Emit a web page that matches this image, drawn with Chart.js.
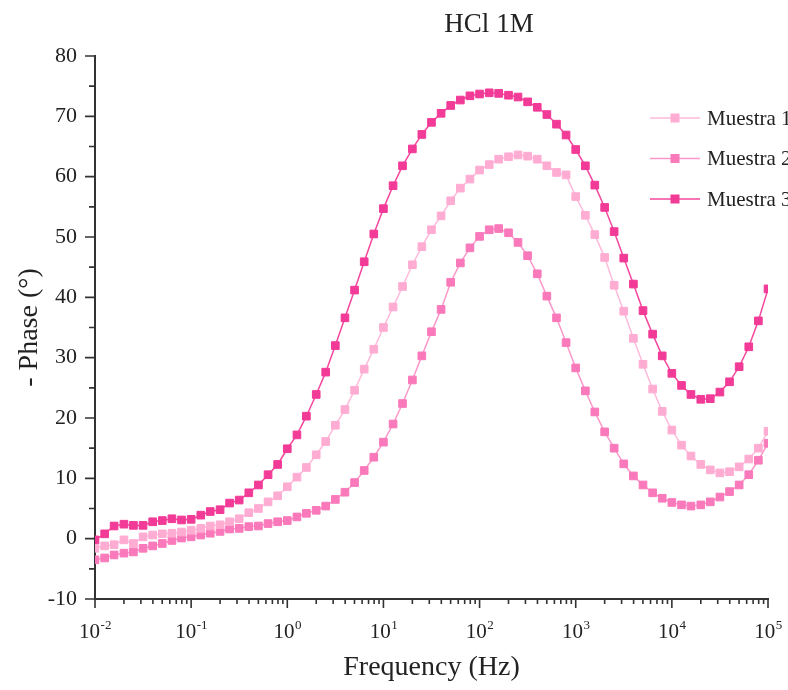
<!DOCTYPE html>
<html>
<head>
<meta charset="utf-8">
<title>HCl 1M - Phase vs Frequency</title>
<script src="https://cdn.jsdelivr.net/npm/chart.js@4.4.1/dist/chart.umd.min.js"></script>
<style>
  html, body { margin: 0; padding: 0; background: #ffffff; overflow: hidden; }
  #wrap { width: 788px; height: 690px; }
</style>
</head>
<body>
<div id="wrap"><canvas id="bode" width="788" height="690"></canvas></div>
<script>
// Frequencies (Hz), 10 points per decade
const freqHz = [
  0.01, 0.0126, 0.0158, 0.02, 0.0251, 0.0316, 0.0398, 0.0501, 0.0631, 0.0794,
  0.1, 0.126, 0.158, 0.2, 0.251, 0.316, 0.398, 0.501, 0.631, 0.794,
  1, 1.26, 1.58, 2, 2.51, 3.16, 3.98, 5.01, 6.31, 7.94,
  10, 12.6, 15.8, 20, 25.1, 31.6, 39.8, 50.1, 63.1, 79.4,
  100, 126, 158, 200, 251, 316, 398, 501, 631, 794,
  1000, 1260, 1580, 2000, 2510, 3160, 3980, 5010, 6310, 7940,
  10000, 12600, 15800, 20000, 25100, 31600, 39800, 50100, 63100, 79400,
  100000
];

// -Phase (degrees) for each sample
const muestra1 = [
  -1.6, -1.2, -1.0, -0.2, -0.8, 0.3, 0.6, 0.8, 0.9, 1.1,
  1.4, 1.7, 2.1, 2.3, 2.8, 3.3, 4.3, 5.0, 6.1, 7.1,
  8.6, 10.2, 11.8, 13.9, 16.1, 18.8, 21.4, 24.6, 28.1, 31.4,
  35.0, 38.4, 41.8, 45.4, 48.4, 51.2, 53.5, 56.0, 58.1, 59.6,
  61.1, 62.0, 62.9, 63.3, 63.6, 63.4, 62.9, 61.8, 60.7, 60.3,
  56.7, 53.6, 50.4, 46.6, 42.0, 37.7, 33.2, 28.9, 24.8, 21.1,
  18.0, 15.5, 13.7, 12.3, 11.4, 10.9, 11.1, 11.9, 13.2, 15.0,
  17.8
];
const muestra2 = [
  -3.5, -3.2, -2.7, -2.4, -2.2, -1.6, -1.2, -0.8, -0.3, 0.1,
  0.3, 0.6, 0.9, 1.2, 1.6, 1.7, 2.0, 2.1, 2.5, 2.8,
  3.0, 3.6, 4.2, 4.7, 5.4, 6.5, 7.7, 9.3, 11.3, 13.5,
  16.0, 19.0, 22.4, 26.3, 30.3, 34.3, 38.0, 42.5, 45.7, 48.2,
  50.1, 51.2, 51.4, 50.7, 49.1, 46.9, 43.9, 40.2, 36.6, 32.5,
  28.3, 24.5, 21.0, 17.7, 15.0, 12.4, 10.4, 8.9, 7.6, 6.7,
  6.0, 5.6, 5.4, 5.6, 6.1, 6.9, 7.8, 8.9, 10.6, 13.0,
  15.8
];
const muestra3 = [
  -0.2, 0.8, 2.1, 2.4, 2.2, 2.2, 2.8, 3.0, 3.3, 3.1,
  3.2, 3.9, 4.5, 4.8, 5.9, 6.4, 7.6, 8.9, 10.6, 12.3,
  14.9, 17.2, 20.3, 23.9, 27.6, 32.0, 36.6, 41.2, 45.9, 50.5,
  54.7, 58.5, 61.8, 64.6, 67.0, 69.0, 70.5, 71.8, 72.7, 73.4,
  73.7, 73.9, 73.8, 73.5, 73.2, 72.4, 71.5, 70.3, 68.7, 66.9,
  64.5, 61.8, 58.6, 54.9, 50.9, 46.5, 42.2, 37.8, 33.9, 30.3,
  27.4, 25.4, 23.9, 23.1, 23.2, 24.3, 26.0, 28.5, 31.8, 36.1,
  41.4
];

const seriesNames = ['Muestra 1', 'Muestra 2', 'Muestra 3'];
const seriesValues = [muestra1, muestra2, muestra3];
const lineColors = ['#FFB9DB', '#FB98C9', '#F4479D'];
const markerColors = ['#FFACD3', '#F979BB', '#F23A97'];

const chartTitle = 'HCl 1M';
const xTitle = 'Frequency (Hz)';
const yTitle = '- Phase (\u00B0)';
const xDecades = [-2, -1, 0, 1, 2, 3, 4, 5];

const serif = "'Liberation Serif', 'Times New Roman', serif";
const axisColor = '#333333';
const textColor = '#222222';

const datasets = seriesNames.map((name, s) => ({
  label: name,
  data: freqHz.map((f, i) => ({ x: f, y: seriesValues[s][i] })),
  borderColor: lineColors[s],
  backgroundColor: markerColors[s],
  pointBackgroundColor: markerColors[s],
  pointBorderColor: markerColors[s],
  pointStyle: 'rect',
  pointRadius: 5.4,
  pointBorderWidth: 1,
  borderWidth: 1.5,
  tension: 0,
  clip: 0
}));

// Outward tick marks (major + minor) and superscript decade labels
const axisDecor = {
  id: 'axisDecor',
  afterDraw(chart) {
    const { ctx, chartArea: a, scales: { x, y } } = chart;
    ctx.save();
    ctx.strokeStyle = axisColor;
    ctx.lineWidth = 1.6;
    ctx.beginPath();
    xDecades.forEach((d, idx) => {
      const base = Math.pow(10, d);
      const px = x.getPixelForValue(base);
      ctx.moveTo(px, a.bottom); ctx.lineTo(px, a.bottom + 9);
      if (idx < xDecades.length - 1) {
        for (let k = 2; k <= 9; k++) {
          const mx = x.getPixelForValue(k * base);
          ctx.moveTo(mx, a.bottom); ctx.lineTo(mx, a.bottom + 5);
        }
      }
    });
    for (let v = -10; v <= 80; v += 10) {
      const py = y.getPixelForValue(v);
      ctx.moveTo(a.left - 10, py); ctx.lineTo(a.left, py);
    }
    for (let v = -5; v < 80; v += 10) {
      const py = y.getPixelForValue(v);
      ctx.moveTo(a.left - 6, py); ctx.lineTo(a.left, py);
    }
    ctx.stroke();

    // decade labels 10^n
    ctx.fillStyle = textColor;
    ctx.textBaseline = 'alphabetic';
    ctx.textAlign = 'left';
    const baseFont = '21px ' + serif;
    const supFont = '13px ' + serif;
    xDecades.forEach(d => {
      const px = x.getPixelForValue(Math.pow(10, d));
      const exp = d < 0 ? '-' + Math.abs(d) : String(d);
      ctx.font = baseFont;
      const w1 = ctx.measureText('10').width;
      ctx.font = supFont;
      const w2 = ctx.measureText(exp).width;
      const start = px - (w1 + w2) / 2;
      ctx.font = baseFont;
      ctx.fillText('10', start, 638);
      ctx.font = supFont;
      ctx.fillText(exp, start + w1 + 0.5, 629);
    });

    // title
    ctx.font = '27px ' + serif;
    ctx.textAlign = 'center';
    ctx.fillText(chartTitle, 489, 32);

    // legend
    chart.data.datasets.forEach((ds, i) => {
      const ly = 118 + 40.5 * i;
      ctx.strokeStyle = ds.borderColor;
      ctx.lineWidth = 1.6;
      ctx.beginPath();
      ctx.moveTo(650, ly); ctx.lineTo(700, ly);
      ctx.stroke();
      ctx.fillStyle = ds.pointBackgroundColor;
      ctx.fillRect(675 - 4.5, ly - 4.5, 9, 9);
      ctx.fillStyle = textColor;
      ctx.font = '21px ' + serif;
      ctx.textAlign = 'left';
      ctx.textBaseline = 'middle';
      ctx.fillText(ds.label, 707, ly + 1);
    });
    ctx.restore();
  }
};

new Chart(document.getElementById('bode'), {
  type: 'line',
  data: { datasets },
  plugins: [axisDecor],
  options: {
    responsive: false,
    animation: false,
    devicePixelRatio: 1,
    layout: { padding: { top: 56, right: 20, left: 0, bottom: 0 } },
    plugins: {
      legend: { display: false },
      title: { display: false },
      tooltip: { enabled: false }
    },
    scales: {
      x: {
        type: 'logarithmic',
        min: 0.01,
        max: 100000,
        grid: { display: false, drawTicks: false },
        border: { display: true, color: axisColor, width: 2 },
        ticks: { display: false },
        title: {
          display: true,
          text: xTitle,
          color: textColor,
          font: { family: serif, size: 28, lineHeight: 1.2 },
          padding: { top: 0, bottom: 6 }
        },
        afterFit(scale) { scale.height = 91; }
      },
      y: {
        type: 'linear',
        min: -10,
        max: 80,
        grid: { display: false, drawTicks: false },
        border: { display: true, color: axisColor, width: 2 },
        ticks: {
          stepSize: 10,
          padding: 18,
          color: textColor,
          font: { family: serif, size: 22 }
        },
        title: {
          display: true,
          text: yTitle,
          color: textColor,
          font: { family: serif, size: 28, lineHeight: 1.2 },
          padding: { top: 13, bottom: 0 }
        },
        afterFit(scale) { scale.width = 95; }
      }
    }
  }
});
</script>
</body>
</html>
